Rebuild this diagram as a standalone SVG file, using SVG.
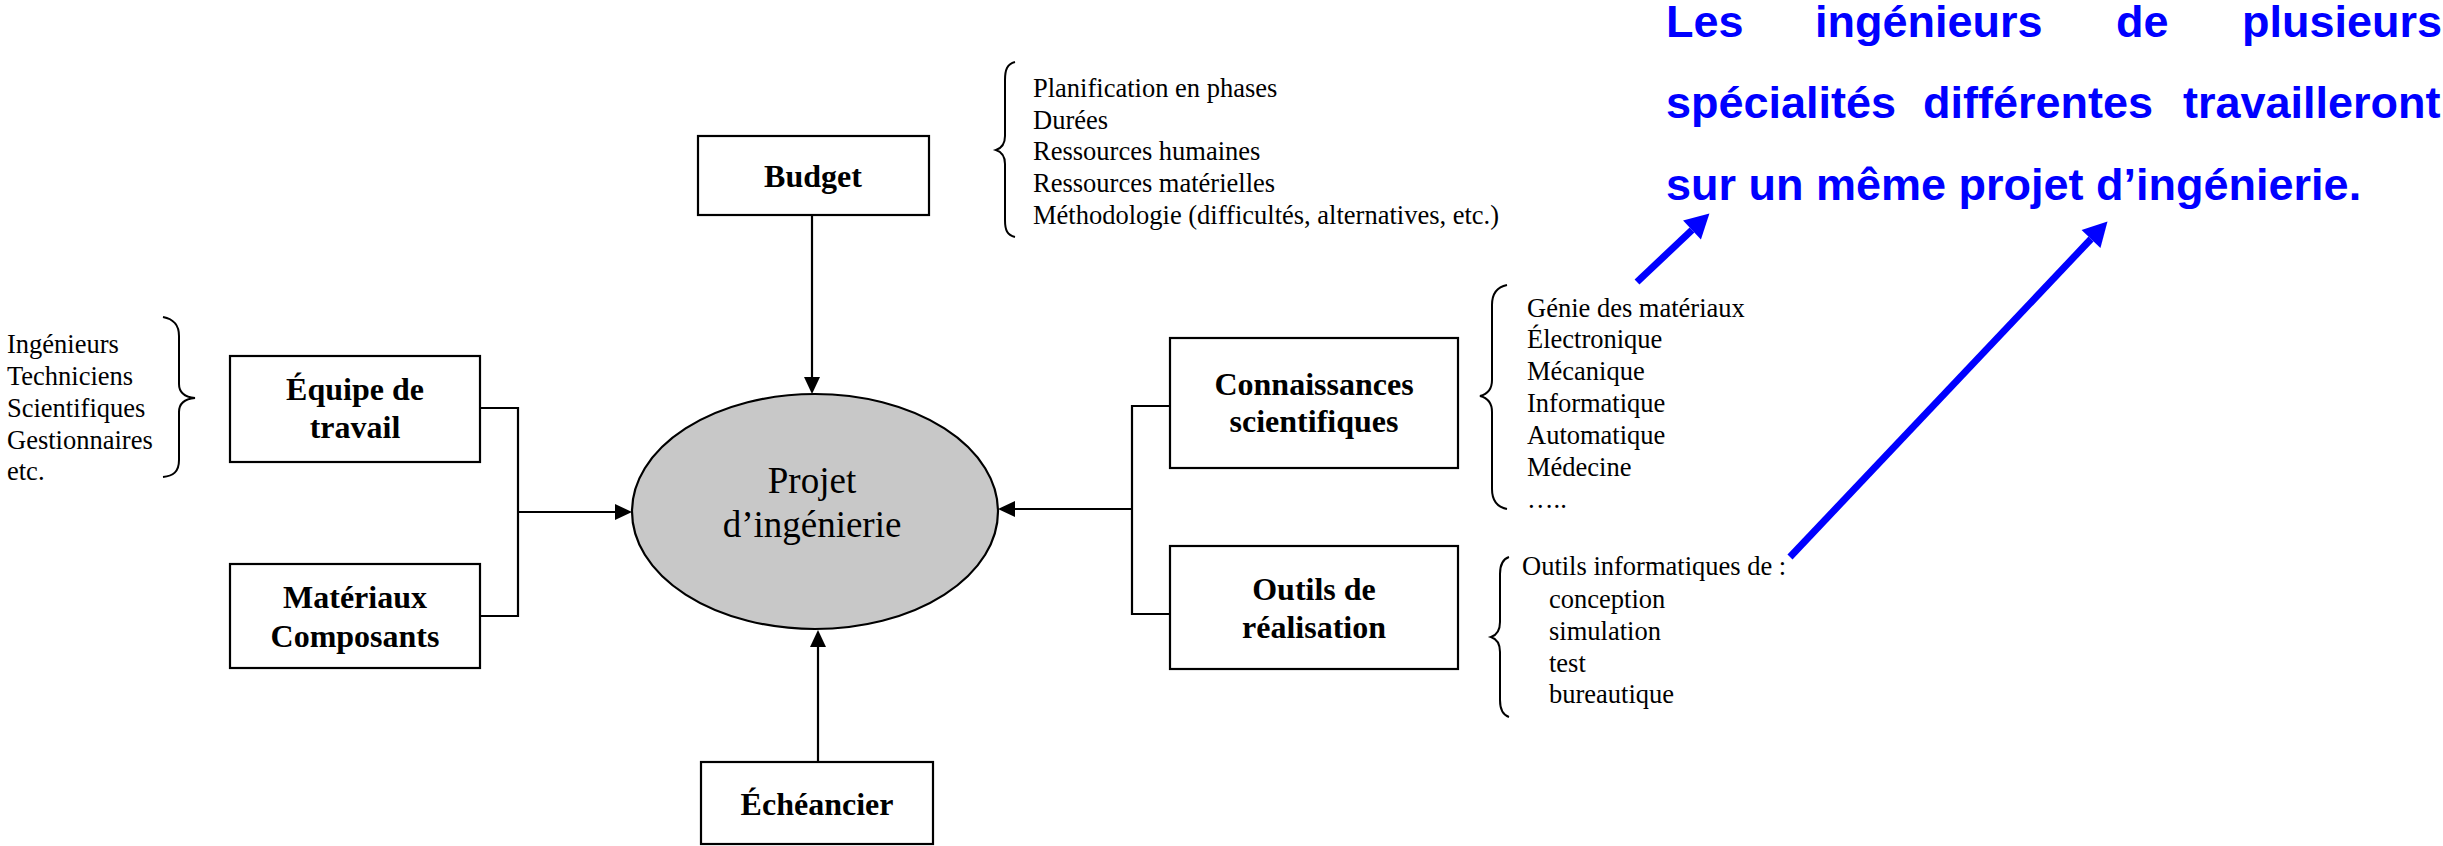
<svg xmlns="http://www.w3.org/2000/svg" width="2443" height="846" viewBox="0 0 2443 846">
<style>
.box{fill:#fff;stroke:#000;stroke-width:2.2}
.lbl{font-family:"Liberation Serif","Times New Roman",serif;font-weight:bold;font-size:32px;fill:#000;text-anchor:middle}
.lst{font-family:"Liberation Serif","Times New Roman",serif;font-size:26.5px;fill:#000}
.brace{fill:none;stroke:#000;stroke-width:2}
.con{fill:none;stroke:#000;stroke-width:2.2}
.blue{font-family:"Liberation Sans",Arial,sans-serif;font-weight:bold;font-size:45px;fill:#0000FF}
.barrow{stroke:#0000FF;stroke-width:7;fill:none}
</style>
<defs>
<marker id="ah" markerUnits="userSpaceOnUse" markerWidth="17" markerHeight="16" refX="0" refY="8" orient="auto" overflow="visible">
<path d="M0,0 L17,8 L0,16 z" fill="#000"/>
</marker>
<marker id="bh" markerUnits="userSpaceOnUse" markerWidth="24" markerHeight="26" refX="0" refY="13" orient="auto" overflow="visible">
<path d="M0,0 L24,13 L0,26 z" fill="#0000FF"/>
</marker>
</defs>

<g id="connectors">
<line class="con" x1="812" y1="215" x2="812" y2="377" marker-end="url(#ah)"/>
<line class="con" x1="818" y1="762" x2="818" y2="647" marker-end="url(#ah)"/>
<polyline class="con" points="480,408 518,408 518,616 480,616"/>
<line class="con" x1="518" y1="512" x2="615" y2="512" marker-end="url(#ah)"/>
<polyline class="con" points="1170,406 1132,406 1132,614 1170,614"/>
<line class="con" x1="1132" y1="509" x2="1015" y2="509" marker-end="url(#ah)"/>
</g>

<g id="projet">
<ellipse cx="815" cy="511.5" rx="183" ry="117.5" fill="#C8C8C8" stroke="#000" stroke-width="2.2"/>
<text x="812" y="493" font-family="'Liberation Serif','Times New Roman',serif" font-size="37" text-anchor="middle">Projet</text>
<text x="812" y="537" font-family="'Liberation Serif','Times New Roman',serif" font-size="37" text-anchor="middle">d’ingénierie</text>
</g>

<g id="budget">
<rect class="box" x="698" y="136" width="231" height="79"/>
<text class="lbl" x="813" y="187">Budget</text>
</g>

<g id="budget-details">
<path class="brace" d="M1015,62 C1007,64 1005,70 1005,80 L1005,136 C1005,144 1002,148 996,150 C1002,152 1005,156 1005,164 L1005,220 C1005,230 1007,235 1015,237"/>
<text class="lst" x="1033" y="97">Planification en phases</text>
<text class="lst" x="1033" y="129">Durées</text>
<text class="lst" x="1033" y="160">Ressources humaines</text>
<text class="lst" x="1033" y="192">Ressources matérielles</text>
<text class="lst" x="1033" y="224">Méthodologie (difficultés, alternatives, etc.)</text>
</g>

<g id="equipe">
<rect class="box" x="230" y="356" width="250" height="106"/>
<text class="lbl" x="355" y="400">Équipe de</text>
<text class="lbl" x="355" y="438">travail</text>
</g>

<g id="equipe-details">
<path class="brace" d="M163,317 C173,319 179,324 179,336 L179,384 C179,392 184,397 195,398 C184,399 179,404 179,412 L179,460 C179,472 173,476 163,477"/>
<text class="lst" x="7" y="353">Ingénieurs</text>
<text class="lst" x="7" y="385">Techniciens</text>
<text class="lst" x="7" y="417">Scientifiques</text>
<text class="lst" x="7" y="449">Gestionnaires</text>
<text class="lst" x="7" y="480">etc.</text>
</g>

<g id="materiaux">
<rect class="box" x="230" y="564" width="250" height="104"/>
<text class="lbl" x="355" y="608">Matériaux</text>
<text class="lbl" x="355" y="647">Composants</text>
</g>

<g id="echeancier">
<rect class="box" x="701" y="762" width="232" height="82"/>
<text class="lbl" x="817" y="815">Échéancier</text>
</g>

<g id="connaissances">
<rect class="box" x="1170" y="338" width="288" height="130"/>
<text class="lbl" x="1314" y="395">Connaissances</text>
<text class="lbl" x="1314" y="432">scientifiques</text>
</g>

<g id="connaissances-details">
<path class="brace" d="M1507,285 C1497,287 1492,293 1492,305 L1492,380 C1492,389 1488,394 1480,396 C1488,398 1492,403 1492,412 L1492,489 C1492,501 1497,507 1507,509"/>
<text class="lst" x="1527" y="317">Génie des matériaux</text>
<text class="lst" x="1527" y="348">Électronique</text>
<text class="lst" x="1527" y="380">Mécanique</text>
<text class="lst" x="1527" y="412">Informatique</text>
<text class="lst" x="1527" y="444">Automatique</text>
<text class="lst" x="1527" y="476">Médecine</text>
<text class="lst" x="1527" y="508">…..</text>
</g>

<g id="outils">
<rect class="box" x="1170" y="546" width="288" height="123"/>
<text class="lbl" x="1314" y="600">Outils de</text>
<text class="lbl" x="1314" y="638">réalisation</text>
</g>

<g id="outils-details">
<path class="brace" d="M1509,557 C1503,559 1500,564 1500,574 L1500,622 C1500,630 1497,635 1491,637 C1497,639 1500,644 1500,652 L1500,700 C1500,710 1503,715 1509,717"/>
<text class="lst" x="1522" y="575">Outils informatiques de :</text>
<text class="lst" x="1549" y="608">conception</text>
<text class="lst" x="1549" y="640">simulation</text>
<text class="lst" x="1549" y="672">test</text>
<text class="lst" x="1549" y="703">bureautique</text>
</g>

<g id="note">
<text class="blue" x="1666" y="37">Les</text>
<text class="blue" x="1815" y="37">ingénieurs</text>
<text class="blue" x="2116" y="37">de</text>
<text class="blue" x="2242" y="37">plusieurs</text>
<text class="blue" x="1666" y="118">spécialités</text>
<text class="blue" x="1923" y="118">différentes</text>
<text class="blue" x="2183" y="118">travailleront</text>
<text class="blue" x="1666" y="200">sur un même projet d’ingénierie.</text>
</g>

<g id="note-arrows">
<line class="barrow" x1="1637" y1="282" x2="1692" y2="230" marker-end="url(#bh)"/>
<line class="barrow" x1="1790" y1="557" x2="2091" y2="239" marker-end="url(#bh)"/>
</g>
</svg>
